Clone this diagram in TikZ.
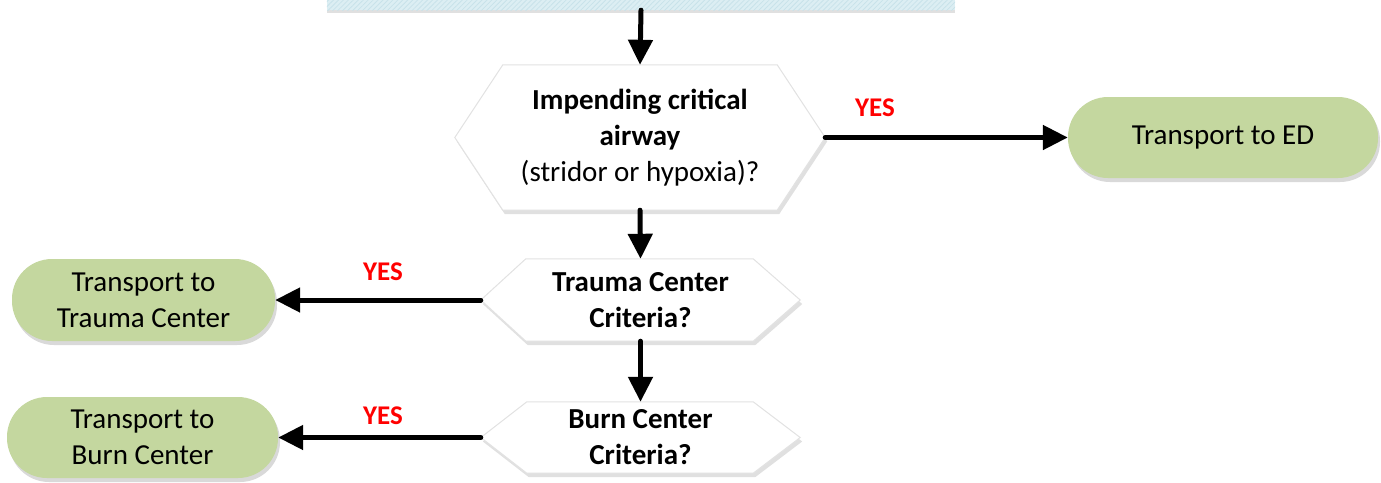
\documentclass[tikz,border=0pt]{standalone}
\usepackage{fontspec}
\setmainfont{Carlito}
\usetikzlibrary{arrows.meta,shadows,patterns.meta,calc}
\definecolor{pillgreen}{HTML}{C4D79F}
\definecolor{topblue}{HTML}{DCEEF3}
\definecolor{hatch}{HTML}{C8E2EA}
\definecolor{hexline}{HTML}{E2E2E2}
\definecolor{yesred}{HTML}{FF0000}
\pgfdeclarelayer{bg}
\pgfsetlayers{bg,main}
\tikzset{
  txt/.style={font=\fontsize{29}{36}\selectfont, align=center, text=black, inner sep=0pt},
  pill/.style={txt, rounded corners=40pt, fill=pillgreen, draw=none,
    drop shadow={shadow xshift=2pt, shadow yshift=-4pt, opacity=0.25, fill=black!60}},
  hexnode/.style={txt},
  hexshape/.style={fill=white, draw=hexline, line width=1pt,
    drop shadow={shadow xshift=2pt, shadow yshift=-4pt, opacity=0.2, fill=black!60}},
  conn/.style={line width=5pt, line cap=round, -{Triangle[length=25pt,width=24pt]}},
  yes/.style={font=\fontsize{27}{32}\bfseries\selectfont, text=yesred, inner sep=0pt}
}
\begin{document}
\begin{tikzpicture}[x=1pt,y=-1pt]
\useasboundingbox (0,0) rectangle (1381,482);
% top box
\node[draw=none, fill=topblue, minimum width=628pt, minimum height=40pt, inner sep=0pt,
  drop shadow={shadow xshift=0pt, shadow yshift=-3pt, opacity=0.2, fill=black!60}] (top) at (641,-10) {};
\fill[pattern={Lines[angle=45,distance=3.5pt,line width=0.8pt]}, pattern color=hatch] (top.south west) rectangle (top.north east);
% hexagon nodes
\node[hexnode, minimum width=370pt, minimum height=145pt] (h1) at (640,137.5)
  {\textbf{Impending critical}\\\textbf{airway}\\(stridor or hypoxia)?};
\node[hexnode, minimum width=319pt, minimum height=82pt] (h2) at (640.5,300)
  {\textbf{Trauma Center}\\\textbf{Criteria?}};
\node[hexnode, minimum width=319pt, minimum height=71pt] (h3) at (640.5,437.5)
  {\textbf{Burn Center}\\\textbf{Criteria?}};
\begin{pgfonlayer}{bg}
\draw[hexshape] (h1.west) -- ([xshift=48pt]h1.north west) -- ([xshift=-48pt]h1.north east)
  -- (h1.east) -- ([xshift=-48pt]h1.south east) -- ([xshift=48pt]h1.south west) -- cycle;
\draw[hexshape] (h2.west) -- ([xshift=45pt]h2.north west) -- ([xshift=-47pt]h2.north east)
  -- (h2.east) -- ([xshift=-47pt]h2.south east) -- ([xshift=45pt]h2.south west) -- cycle;
\draw[hexshape] (h3.west) -- ([xshift=46pt]h3.north west) -- ([xshift=-47pt]h3.north east)
  -- (h3.east) -- ([xshift=-47pt]h3.south east) -- ([xshift=46pt]h3.south west) -- cycle;
\end{pgfonlayer}
% pills
\node[pill, minimum width=310pt, minimum height=81pt] (ed) at (1223,137.5) {Transport to ED};
\node[pill, minimum width=263pt, minimum height=82pt] (tc) at (143.5,300) {Transport to\\Trauma Center};
\node[pill, minimum width=271pt, minimum height=81pt] (bc) at (142.5,437.5) {Transport to\\Burn Center};
% connectors
\draw[conn] (top.south) -- (h1.north);
\draw[conn] (h1.south) -- (h2.north);
\draw[conn] (h2.south) -- (h3.north);
\draw[conn] (h1.east) -- (ed.west);
\draw[conn] (h2.west) -- (tc.east);
\draw[conn] (h3.west) -- (bc.east);
% labels
\node[yes] (y1) at (875,108) {YES};
\node[yes] (y2) at (383,272) {YES};
\node[yes] (y3) at (383,416) {YES};
\end{tikzpicture}
\end{document}
